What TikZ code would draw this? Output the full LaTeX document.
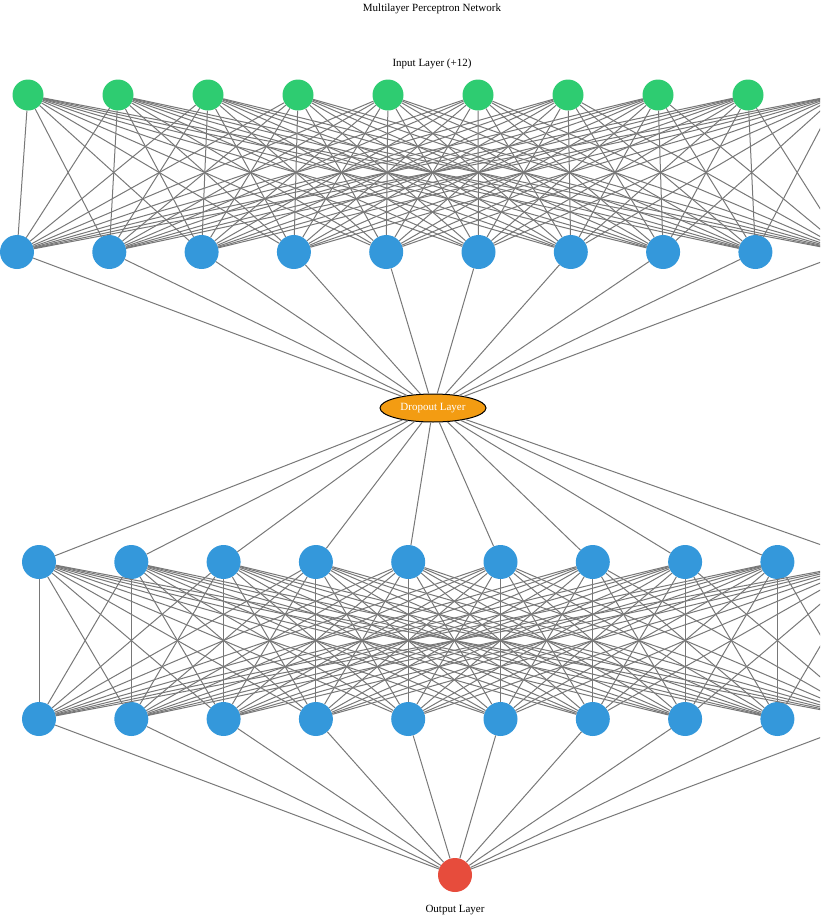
\documentclass[tikz,border=0pt]{standalone}
\usepackage{fontspec}
\setmainfont{Liberation Serif}
\usetikzlibrary{shapes.geometric}
\definecolor{mlpgreen}{RGB}{46,204,113}
\definecolor{mlpblue}{RGB}{52,152,219}
\definecolor{mlpred}{RGB}{231,76,60}
\definecolor{mlporange}{RGB}{243,156,18}
\definecolor{mlpedge}{RGB}{120,120,120}

\begin{document}
\begin{tikzpicture}[
    x=1pt, y=-1pt,
    inunit/.style={circle, fill=mlpgreen, minimum size=31pt, inner sep=0pt},
    hidunit/.style={circle, fill=mlpblue, minimum size=34pt, inner sep=0pt},
    outunit/.style={circle, fill=mlpred, minimum size=34pt, inner sep=0pt},
    dropbox/.style={ellipse, draw=black, line width=1pt, fill=mlporange, minimum width=106pt, minimum height=28pt, inner sep=0pt, text=white},
    label/.style={font=\fontsize{11}{13}\selectfont},
    wire/.style={draw=mlpedge, line width=1pt}
]
\clip (0,0) rectangle (820,916);

\node[label] (title) at (432,9) {Multilayer Perceptron Network};
\node[label] (inlabel) at (432,64) {Input Layer (+12)};

% layers
\foreach \i in {1,...,10} {
    \node[inunit] (in\i) at ({28+90*(\i-1)},95) {};
    \node[hidunit] (ha\i) at ({17+92.3*(\i-1)},252) {};
    \node[hidunit] (hb\i) at ({39+92.3*(\i-1)},562) {};
    \node[hidunit] (hc\i) at ({39+92.3*(\i-1)},719) {};
}
\node[dropbox, label] (drop) at (433,408) {Dropout Layer};
\node[outunit] (out) at (455,875) {};
\node[label] (outlabel) at (455,910) {Output Layer};

% connections
\foreach \i in {1,...,10} {
    \foreach \j in {1,...,10} {
        \draw[wire] (in\i) -- (ha\j);
        \draw[wire] (hb\i) -- (hc\j);
    }
    \draw[wire] (ha\i) -- (drop);
    \draw[wire] (drop) -- (hb\i);
    \draw[wire] (hc\i) -- (out);
}
\end{tikzpicture}
\end{document}
